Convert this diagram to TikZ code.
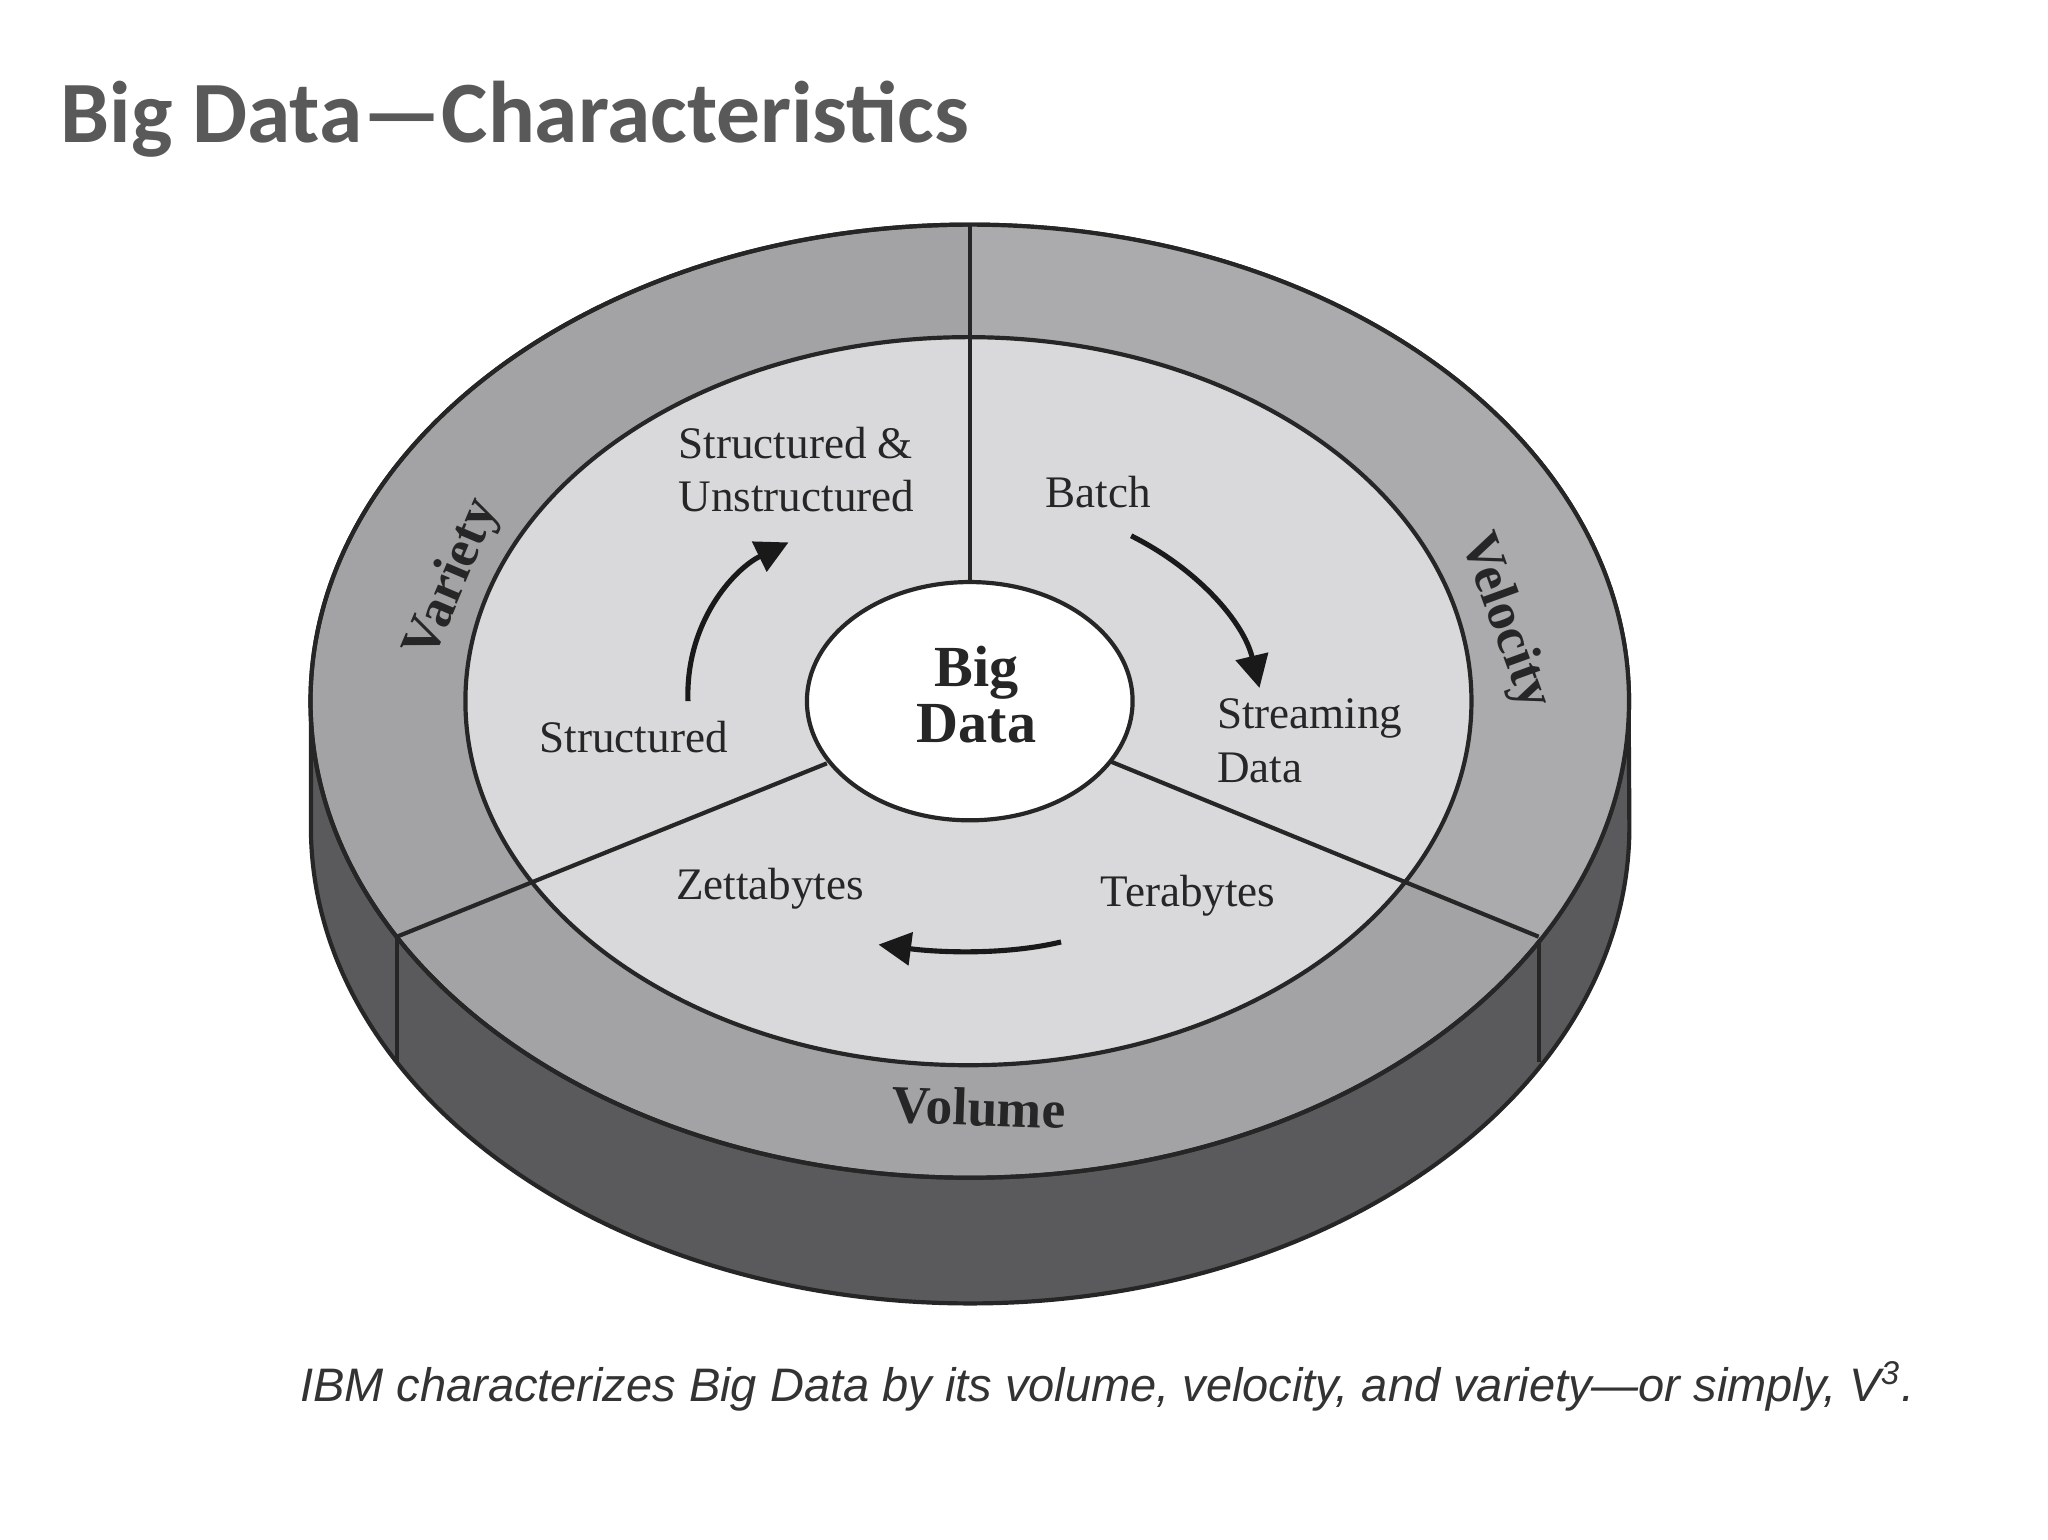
\documentclass[tikz,border=0pt]{standalone}
\usepackage{fontspec}
\setmainfont{Liberation Serif}
\newfontfamily\titlefont{Carlito}
\newfontfamily\capfont{Liberation Sans}
\usetikzlibrary{arrows.meta,shapes.geometric}
\definecolor{band}{HTML}{A3A3A5}
\definecolor{bandR}{HTML}{ABABAD}
\definecolor{inner}{HTML}{D9D9DB}
\definecolor{side}{HTML}{5A5A5C}
\definecolor{titlegray}{HTML}{595959}
\tikzset{lbl/.style={font=\fontsize{9.7pt}{11.5pt}\selectfont, text=black!85, align=left},
  bold/.style={font=\bfseries\fontsize{12.5pt}{14pt}\selectfont, align=center},
  edge/.style={line width=0.9pt, draw=black!85},
  arr/.style={line width=1.1pt, black!90, -{Triangle[length=7pt,width=7pt]}}}
\begin{document}
\begin{tikzpicture}[x=0.01cm,y=-0.01cm]
\useasboundingbox (0,0) rectangle (1548,1164);
\fill[white] (0,0) rectangle (1548,1164);
\node[anchor=base west, inner sep=0, font=\titlefont\bfseries\fontsize{18.8pt}{21pt}\selectfont, text=titlegray] (title) at (45,108) {Big Data—Characteristics};
% cylinder side
\path[fill=side, edge] (235,530) -- (235,625) arc[start angle=180,end angle=360,x radius=4.98cm,y radius=3.6cm] -- (1231,530) -- cycle;
\draw[edge] (300,708) -- (300,803);
\draw[edge] (1163,708) -- (1163,803);
% top face
\path[fill=band, edge] (733,530) ellipse[x radius=4.98cm, y radius=3.6cm];
\fill[bandR] (733,530) -- (733,170) arc[start angle=90,end angle=-29.7,x radius=4.98cm,y radius=3.6cm] -- cycle;
\draw[edge] (733,530) ellipse[x radius=4.98cm, y radius=3.6cm];
\path[fill=inner, edge] (732,530) ellipse[x radius=3.8cm, y radius=2.75cm];
\draw[edge] (733,170) -- (733,440);
\draw[edge] (625,577) -- (300,708);
\draw[edge] (838,575) -- (1163,708);
\node[ellipse, fill=white, edge, minimum width=2.46cm, minimum height=1.8cm, inner sep=0] (center) at (733,530) {};
\node[bold, text=black!85] (bd) at (738,525) {Big\\[-2pt]Data};
% labels
\node[lbl] (su) at (602,355) {Structured \&\\Unstructured};
\node[lbl] (batch) at (830,372) {Batch};
\node[lbl] (stream) at (990,560) {Streaming\\Data};
\node[lbl] (struct) at (479,557) {Structured};
\node[lbl] (zetta) at (582,672) {Zettabytes};
\node[lbl] (tera) at (898,677) {Terabytes};
\node[bold, font=\bfseries\fontsize{11.5pt}{13pt}\selectfont, text=black!85, rotate=67] (variety) at (343,438) {Variety};
\node[bold, font=\bfseries\fontsize{11.5pt}{13pt}\selectfont, text=black!85, rotate=-70] (velocity) at (1137,470) {Velocity};
\node[bold, font=\bfseries\fontsize{11.5pt}{13pt}\selectfont, text=black!85, rotate=-2] (volume) at (740,837) {Volume};
% arrows
\coordinate (a1) at (520,530); \coordinate (a2) at (596,410);
\draw[arr] (a1) .. controls (518,470) and (555,430) .. (a2);
\coordinate (b1) at (855,405); \coordinate (b2) at (952,520);
\draw[arr] (b1) .. controls (905,430) and (940,470) .. (b2);
\coordinate (c1) at (802,712); \coordinate (c2) at (664,714);
\draw[arr] (c1) .. controls (760,722) and (710,720) .. (c2);
\node[font=\capfont\itshape\fontsize{10.1pt}{12pt}\selectfont, text=black!80] (cap) at (837,1048) {IBM characterizes Big Data by its volume, velocity, and variety—or simply, V\textsuperscript{3}.};
\end{tikzpicture}
\end{document}
